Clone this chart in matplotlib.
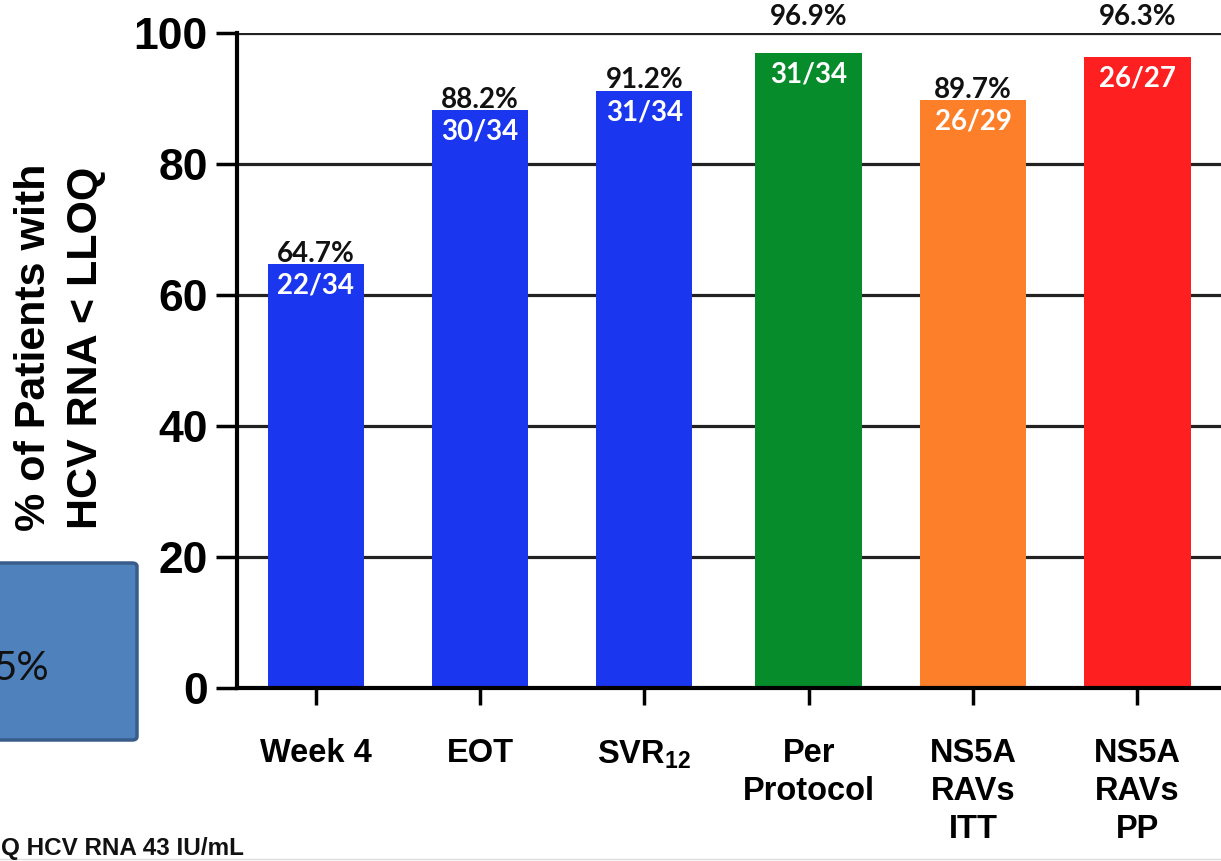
import matplotlib
matplotlib.use("Agg")
import matplotlib.pyplot as plt
from matplotlib.patches import FancyBboxPatch
from matplotlib.lines import Line2D

plt.rcParams['font.family'] = ['Liberation Sans', 'DejaVu Sans']
plt.rcParams['mathtext.fontset'] = 'custom'
plt.rcParams['mathtext.rm'] = 'Liberation Sans:bold'
plt.rcParams['mathtext.bf'] = 'Liberation Sans:bold'

# data
categories = ['Week 4', 'EOT', 'SVR$_{12}$', 'Per\nProtocol',
              'NS5A\nRAVs\nITT', 'NS5A\nRAVs\nPP']
percent = [64.7, 88.2, 91.2, 96.9, 89.7, 96.3]
fractions = ['22/34', '30/34', '31/34', '31/34', '26/29', '26/27']
y_ticks = [0, 20, 40, 60, 80, 100]

# styling
bar_colors = ['#1b36ef', '#1b36ef', '#1b36ef', '#068c2b', '#fe7f29', '#fe2020']
bar_widths = [0.585, 0.585, 0.585, 0.65, 0.65, 0.65]

fig = plt.figure(figsize=(12.21, 8.61), dpi=100)
ax = fig.add_axes([0.194, 0.2009, 0.806, 0.7608])

x = list(range(len(categories)))
ax.bar(x, percent, width=bar_widths, color=bar_colors, zorder=3)

ax.set_xlim(-0.481, 5.51)
ax.set_ylim(0, 100)

# horizontal grid
for yv in y_ticks[1:]:
    ax.axhline(yv, color='#222222', lw=2.3, zorder=1)

for side in ['top', 'right']:
    ax.spines[side].set_visible(False)
ax.spines['left'].set_linewidth(3)
ax.spines['bottom'].set_linewidth(3)
ax.spines['bottom'].set_zorder(4)

ax.set_yticks(y_ticks)
ax.set_yticklabels([str(v) for v in y_ticks], fontsize=32, fontweight='bold')
ax.tick_params(axis='y', length=15, width=2.5, pad=6)

ax.set_xticks(x)
ax.set_xticklabels(categories, fontsize=23.5, fontweight='bold', linespacing=1.3)
ax.tick_params(axis='x', length=12, width=2.5, pad=24)

ax.set_ylabel('% of Patients with\nHCV RNA < LLOQ', fontsize=31,
              fontweight='bold', linespacing=1.38)
ax.yaxis.set_label_coords(-0.133, 0.52)

# value labels
for xi, val, frac in zip(x, percent, fractions):
    label_y = val + 0.4 if val < 95 else 101.2
    ax.text(xi, label_y, f'{val:.1f}%', ha='center', va='baseline',
            fontsize=20, fontweight='bold', family='Lato', color='#111111',
            clip_on=False, zorder=5)
    ax.text(xi, val - 1.3, frac, ha='center', va='top', fontsize=20,
            fontweight='bold', family='Lato', color='white', zorder=5)

# blue call-out box at the left edge
box = FancyBboxPatch((-10 / 1221, 1 - 740 / 861), 147 / 1221, 177 / 861,
                     boxstyle='round,pad=0,rounding_size=0.004',
                     transform=fig.transFigure, facecolor='#4f81bd',
                     edgecolor='#385d8a', lw=2.5, zorder=0)
fig.patches.append(box)
fig.text(-6 / 1221, 1 - 668 / 861, '5%', ha='left', va='center',
         fontsize=29, family='Lato', color='#111111')

# footnote
fig.text(1 / 1221, 1 - 848 / 861, 'Q HCV RNA 43 IU/mL', ha='left', va='center',
         fontsize=17.5, fontweight='bold', color='#111111')
fig.lines.append(Line2D([0, 1], [1 - 859 / 861] * 2, transform=fig.transFigure,
                        color='#dddddd', lw=1))

fig.savefig('out.png', dpi=100)
